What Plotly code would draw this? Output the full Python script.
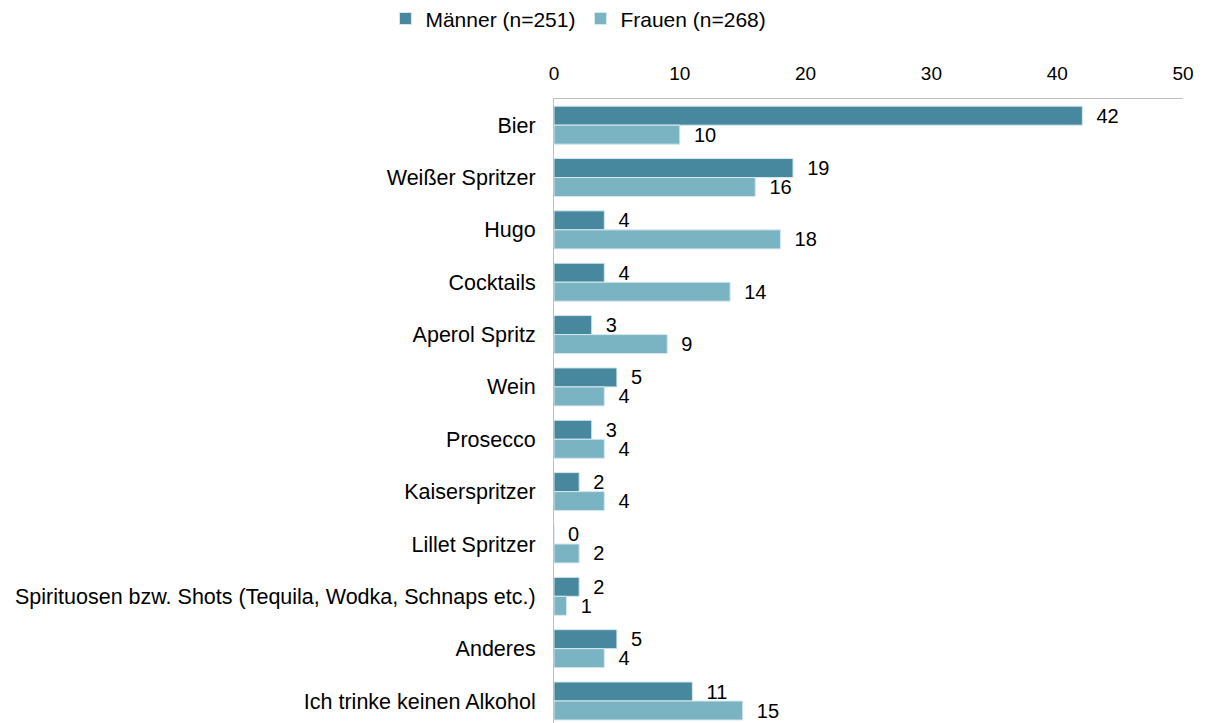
import plotly.graph_objects as go

categories = ["Bier", "Weißer Spritzer", "Hugo", "Cocktails", "Aperol Spritz", "Wein",
              "Prosecco", "Kaiserspritzer", "Lillet Spritzer",
              "Spirituosen bzw. Shots (Tequila, Wodka, Schnaps etc.)", "Anderes",
              "Ich trinke keinen Alkohol"]
maenner = [42, 19, 4, 4, 3, 5, 3, 2, 0, 2, 5, 11]
frauen = [10, 16, 18, 14, 9, 4, 4, 4, 2, 1, 4, 15]
series_names = ["Männer (n=251)", "Frauen (n=268)"]
x_ticks = [0, 10, 20, 30, 40, 50]

FONT = "Liberation Sans, Arial, sans-serif"
C_M = "#47889F"
C_F = "#7AB4C2"

fig = go.Figure()
for name, vals, col in [(series_names[0], maenner, C_M), (series_names[1], frauen, C_F)]:
    fig.add_trace(go.Bar(
        y=categories, x=vals, name=name, orientation="h",
        marker=dict(color=col, line=dict(color="#d6e8ee", width=1)),
        texttemplate="\u00a0\u00a0%{x}", textposition="outside", cliponaxis=False,
        constraintext="none",
        textfont=dict(family=FONT, size=20, color="#000000"),
    ))

fig.update_layout(
    width=1210, height=723,
    margin=dict(l=546, r=35, t=91, b=8, autoexpand=False),
    paper_bgcolor="white", plot_bgcolor="white",
    barmode="group", bargap=0.274, bargroupgap=0,
    font=dict(family=FONT, size=20, color="#000000"),
    showlegend=True,
    legend=dict(orientation="h", x=-0.268, xanchor="left", yref="container",
                y=0.985, yanchor="middle",
                font=dict(family=FONT, size=21, color="#000000"),
                itemwidth=30, traceorder="normal", bgcolor="rgba(0,0,0,0)"),
    xaxis=dict(side="top", range=[0, 50], tickvals=x_ticks, showgrid=False, zeroline=False,
               showline=True, linecolor="#BFBFBF", linewidth=1, ticks="", automargin=False,
               tickfont=dict(family=FONT, size=19, color="#000000"), ticklabelstandoff=10),
    yaxis=dict(categoryorder="array", categoryarray=categories, range=[11.42, -0.5],
               showgrid=False, zeroline=False, showline=True, linecolor="#BFBFBF", linewidth=1,
               ticks="", ticklabelstandoff=13, automargin=False,
               tickfont=dict(family=FONT, size=21.5, color="#000000")),
)

fig.write_html("out.html")
